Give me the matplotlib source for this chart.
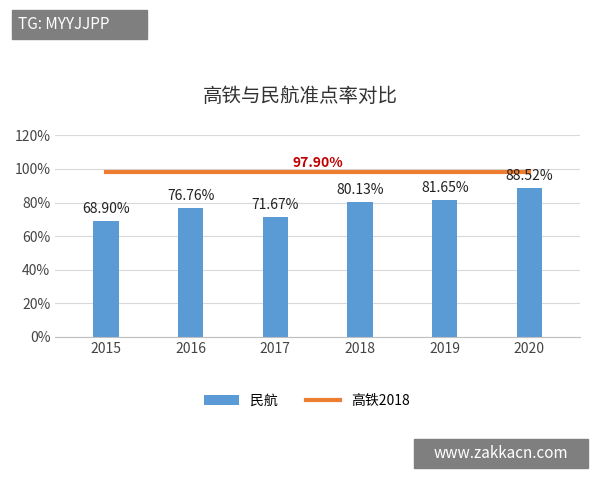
import matplotlib
matplotlib.use("Agg")
import matplotlib.pyplot as plt

plt.rcParams['font.family'] = ['Noto Sans CJK SC', 'DejaVu Sans']

years = ['2015', '2016', '2017', '2018', '2019', '2020']
civil = [68.90, 76.76, 71.67, 80.13, 81.65, 88.52]
rail = [97.90] * 6
rail_label = '97.90%'

fig = plt.figure(figsize=(6, 4.8), dpi=100)
ax = fig.add_axes([0.092, 0.298, 0.875, 0.42])
x = range(len(years))
b = ax.bar(x, civil, width=0.3, color='#5b9bd5', label='民航', zorder=2)
l, = ax.plot(x, rail, color='#ed7d31', lw=3, label='高铁2018', zorder=3)
for i, v in zip(x, civil):
    ax.text(i, v + 3, f'{v:.2f}%', ha='center', va='bottom', fontsize=10, color='#222222')
ax.text(2.5, rail[0] + 1.5, rail_label, ha='center', va='bottom', fontsize=10,
        color='#c00000', fontweight='bold')
ax.set_ylim(0, 120)
ax.set_yticks(range(0, 121, 20))
ax.set_yticklabels([f'{t}%' for t in range(0, 121, 20)], fontsize=10, color='#444444')
ax.set_xticks(list(x))
ax.set_xticklabels(years, fontsize=10, color='#444444')
ax.set_xlim(-0.6, 5.6)
ax.grid(axis='y', color='#d9d9d9', lw=0.8, zorder=0)
for s in ['top', 'right', 'left']:
    ax.spines[s].set_visible(False)
ax.spines['bottom'].set_color('#bfbfbf')
ax.tick_params(length=0)
fig.text(0.5, 0.8, '高铁与民航准点率对比', ha='center', va='center', fontsize=14, color='#333333')
ax.legend(handles=[b, l], loc='upper center', bbox_to_anchor=(0.48, -0.22), ncol=2,
          frameon=False, fontsize=10, handlelength=2.5, columnspacing=2)

fig.patches.append(plt.Rectangle((0.02, 0.918), 0.225, 0.062, transform=fig.transFigure,
                                 color='#7f7f7f', zorder=5))
fig.text(0.03, 0.949, 'TG: MYYJJPP', color='white', fontsize=11, va='center', zorder=6)
fig.patches.append(plt.Rectangle((0.69, 0.025), 0.29, 0.06, transform=fig.transFigure,
                                 color='#7f7f7f', zorder=5))
fig.text(0.835, 0.055, 'www.zakkacn.com', color='white', fontsize=11, va='center',
         ha='center', zorder=6)
fig.savefig('out.png', dpi=100, facecolor='white')
